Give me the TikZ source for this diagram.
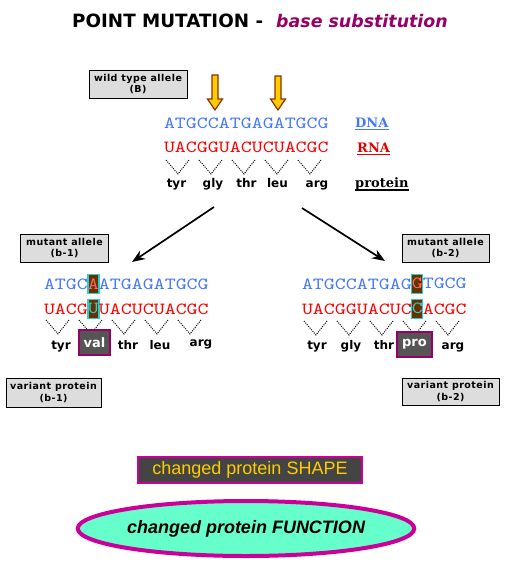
\documentclass[tikz,border=0pt]{standalone}
\usepackage{fontspec}
\setsansfont{Liberation Sans}
\newfontfamily\seqfont{lmmono10-regular.otf}[FakeStretch=1.23]
\newfontfamily\tagfont{DejaVu Sans}[LetterSpace=5]
\newfontfamily\headfont{DejaVu Sans}
\newfontfamily\keyfont{DejaVu Serif}
\usetikzlibrary{arrows.meta,positioning,calc,shapes.geometric}
\definecolor{dnablue}{HTML}{4477FF}
\definecolor{rnared}{HTML}{FF0000}
\definecolor{keyred}{HTML}{DD0000}
\definecolor{titlepurple}{HTML}{990066}
\definecolor{tagfill}{HTML}{DDDDDD}
\definecolor{hitbrown}{HTML}{663300}
\definecolor{hitcyan}{HTML}{33CCCC}
\definecolor{hitpink}{HTML}{FF6666}
\definecolor{aaborder}{HTML}{990066}
\definecolor{aafill}{HTML}{555555}
\definecolor{arrowyellow}{HTML}{FFCC00}
\definecolor{arrowbrown}{HTML}{883300}
\definecolor{hotpink}{HTML}{CC0099}
\definecolor{shapegray}{HTML}{444444}
\definecolor{aqua}{HTML}{66FFCC}
\tikzset{
    %Define standard arrow tip
    >={Stealth[length=13pt,width=10pt]},
    %Define style for the grey label boxes
    tag/.style={
           rectangle,
           draw=black, line width=0.8pt,
           fill=tagfill,
           font=\tagfont\bfseries\fontsize{9.5}{11.5}\selectfont,
           align=center,
           inner sep=0pt,
           minimum width=88,
           minimum height=28},
    % Define style for base sequences
    seq/.style={
           inner sep=0pt,
           outer sep=0pt,
           anchor=base west,
           font=\seqfont\fontsize{17}{17}\selectfont},
    % substituted base
    hit/.style={
           rectangle,
           draw=hitcyan, line width=1.2pt,
           fill=hitbrown,
           inner sep=0pt,
           outer sep=0pt,
           minimum width=11,
           minimum height=19,
           font=\seqfont\fontsize{17}{17}\selectfont},
    codon/.style={
           dash pattern=on 1pt off 1.2pt,
           line width=1pt},
    amino/.style={
           inner sep=0pt,
           anchor=base,
           font=\headfont\bfseries\fontsize{12}{12}\selectfont},
    aabox/.style={
           rectangle,
           draw=aaborder, line width=2pt,
           fill=aafill,
           text=white,
           inner sep=0pt,
           minimum width=31,
           minimum height=25,
           font=\headfont\bfseries\fontsize{13}{13}\selectfont},
    key/.style={
           inner sep=0pt,
           anchor=base west,
           font=\keyfont\bfseries\fontsize{13}{13}\selectfont},
    % Define arrow style
    pil/.style={
           ->,
           line width=1.7pt},
    yarrow/.style={
           fill=arrowyellow,
           draw=arrowbrown,
           line width=1.2pt}
}

\begin{document}
\begin{tikzpicture}[x=1pt,y=-1pt]
 \useasboundingbox (0,0) rectangle (508,566);

 %Title
 \node[anchor=base west,inner sep=0pt,font=\headfont\bfseries\fontsize{18.3}{18}\selectfont] (title) at (72,27) {POINT MUTATION -};
 \node[anchor=base west,inner sep=0pt,text=titlepurple,font=\headfont\bfseries\itshape\fontsize{17.4}{18}\selectfont] (subtitle) at (276,27) {base substitution};

 %Wild type
 \node[tag,minimum width=98] (wild) at (138,84) {wild type allele\\(B)};
 \foreach \x/\t in {215/75,278/76}
   \draw[yarrow] (\x-3,\t) -- (\x+3,\t) -- (\x+3,99) -- (\x+7.5,99) -- (\x,110) -- (\x-7.5,99) -- (\x-3,99) -- cycle;

 \node[seq,text=dnablue] (wdna) at (164,128) {ATGCCATGAGATGCG};
 \node[seq,text=rnared] (wrna) at (164,152) {UACGGUACUCUACGC};

 \node[key,text=dnablue] (kdna) at (355,127) {DNA};
 \node[key,text=keyred] (krna) at (357,152) {RNA};
 \node[key] (kprot) at (355,187) {protein};
 \draw[line width=1.6pt,dnablue] ($(kdna.base west)+(0,2.5)$) -- ($(kdna.base east)+(0,2.5)$);
 \draw[line width=1.6pt,keyred] ($(krna.base west)+(0,2.5)$) -- ($(krna.base east)+(0,2.5)$);
 \draw[line width=1.4pt] ($(kprot.base west)+(0,3)$) -- ($(kprot.base east)+(0,3)$);

 \foreach \k in {0,...,4}
   \draw[codon] ({166+33*\k},160) -- ({178+33*\k},174) -- ({189+33*\k},160);
 \foreach \aa/\x in {tyr/176.5,gly/213,thr/246.5,leu/277.5,arg/317}
   \node[amino] (w\aa) at (\x,187) {\aa};

 %Split
 \coordinate (forkL) at (214,207);
 \coordinate (forkR) at (302,208);
 \coordinate (tipL) at (132,262);
 \coordinate (tipR) at (385,261);
 \draw[pil] (forkL) -- (tipL);
 \draw[pil] (forkR) -- (tipR);

 %Mutant b-1
 \node[tag] (mutL) at (64.5,248) {mutant allele\\(b-1)};
 \node[seq,text=dnablue] (mdnaL) at (44,289) {ATGC};
 \node[hit,text=hitpink,right=0pt of mdnaL] (hdnaL) {A};
 \node[seq,text=dnablue,right=0pt of hdnaL] (mdnaL2) {ATGAGATGCG};
 \node[seq,text=rnared] (mrnaL) at (44,314) {UACG};
 \node[hit,text=hitcyan,right=0pt of mrnaL] (hrnaL) {U};
 \node[seq,text=rnared,right=0pt of hrnaL] (mrnaL2) {UACUCUACGC};
 \foreach \k in {0,...,4}
   \draw[codon] ({46+33*\k},320) -- ({58+33*\k},334) -- ({69+33*\k},320);
 \foreach \aa/\x in {tyr/61,thr/128,leu/160}
   \node[amino] (l\aa) at (\x,349) {\aa};
 \node[amino] (larg) at (201,346) {arg};
 \node[aabox] (val) at (94.5,342.5) {val};
 \node[tag,minimum width=95,minimum height=29] (varL) at (53.5,392.5) {variant protein\\(b-1)};

 %Mutant b-2
 \node[tag,minimum width=87] (mutR) at (445.5,248) {mutant allele\\(b-2)};
 \node[seq,text=dnablue] (mdnaR) at (302,289) {ATGCCATGAG};
 \node[hit,text=hitpink,right=0pt of mdnaR] (hdnaR) {G};
 \node[seq,text=dnablue,right=0pt of hdnaR] (mdnaR2) {TGCG};
 \node[seq,text=rnared] (mrnaR) at (302,314) {UACGGUACUC};
 \node[hit,text=hitcyan,right=0pt of mrnaR] (hrnaR) {C};
 \node[seq,text=rnared,right=0pt of hrnaR] (mrnaR2) {ACGC};
 \foreach \k in {0,...,4}
   \draw[codon] ({304+33*\k},321) -- ({316+33*\k},335) -- ({327+33*\k},321);
 \foreach \aa/\x in {tyr/317,gly/351,thr/384,arg/453}
   \node[amino] (r\aa) at (\x,349.5) {\aa};
 \node[aabox,minimum width=35] (pro) at (414.5,344) {pro};
 \node[tag,minimum width=97,minimum height=27] (varR) at (450.5,391.5) {variant protein\\(b-2)};

 %Result
 \node[rectangle,draw=hotpink,line width=2pt,fill=shapegray,text=arrowyellow,
       minimum width=224,minimum height=26,inner sep=0pt,
       font=\sffamily\fontsize{18}{18}\selectfont] (shape) at (250,470) {changed protein SHAPE};
 \node[ellipse,draw=hotpink,line width=4pt,fill=aqua,
       minimum width=322,minimum height=55,inner sep=0pt,
       font=\sffamily\bfseries\itshape\fontsize{18}{18}\selectfont] (func) at (246,528.5) {changed protein FUNCTION};
\end{tikzpicture}
\end{document}
